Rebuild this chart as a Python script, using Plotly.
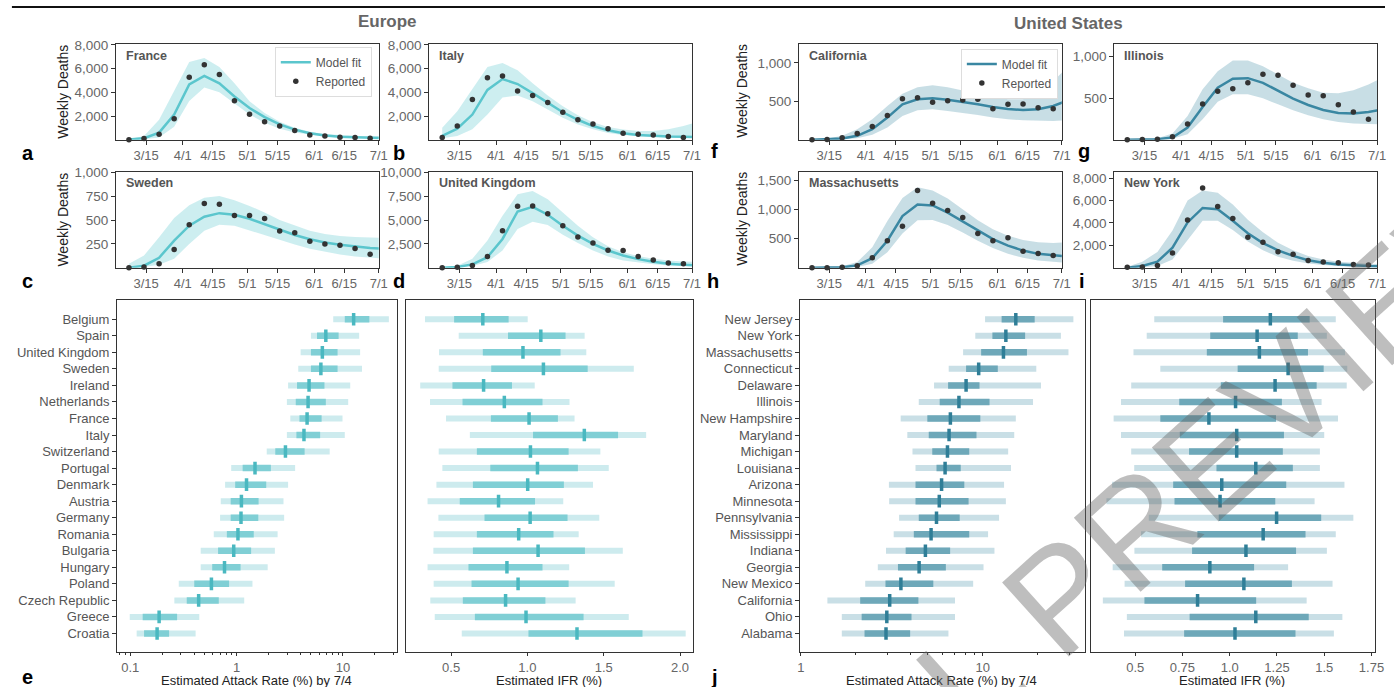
import plotly.graph_objects as go

W, H = 1394, 687

# ---------------- time-series data (weekly) ----------------
week_dates = ['2020-03-07', '2020-03-14', '2020-03-21', '2020-03-28', '2020-04-04', '2020-04-11',
              '2020-04-18', '2020-04-25', '2020-05-02', '2020-05-09', '2020-05-16', '2020-05-23',
              '2020-05-30', '2020-06-06', '2020-06-13', '2020-06-20', '2020-06-27']
fit_dates = week_dates + ['2020-07-04']

date_tickvals = ['2020-03-15', '2020-04-01', '2020-04-15', '2020-05-01', '2020-05-15',
                 '2020-06-01', '2020-06-15', '2020-07-01']
date_ticktext = ['3/15', '4/1', '4/15', '5/1', '5/15', '6/1', '6/15', '7/1']

france_reported = [10, 110, 470, 1770, 5280, 6330, 5500, 3290, 2160, 1520, 1160, 775, 415, 330, 220, 195, 140]
france_fit = [20, 140, 610, 2130, 4670, 5390, 4760, 3650, 2680, 1910, 1300, 860, 550, 360, 250, 190, 160, 140]
france_hi = [50, 330, 1700, 4120, 6550, 6890, 6140, 4760, 3240, 2270, 1520, 1020, 690, 500, 390, 330, 300, 330]
france_lo = [0, 50, 200, 1100, 3260, 4400, 4010, 3100, 2130, 1440, 940, 610, 415, 280, 190, 160, 140, 130]

italy_reported = [190, 1160, 3400, 5230, 5370, 4120, 3730, 3150, 2320, 1690, 1330, 940, 550, 470, 415, 280, 190]
italy_fit = [330, 940, 2130, 4200, 5120, 4700, 3930, 3100, 2320, 1690, 1160, 800, 550, 415, 330, 280, 250, 220]
italy_hi = [1020, 2400, 4290, 6140, 6470, 5860, 4760, 3730, 2820, 2070, 1490, 1080, 860, 750, 750, 890, 1160, 1520]
italy_lo = [140, 330, 890, 2130, 3570, 3730, 3240, 2540, 1850, 1300, 890, 580, 415, 300, 250, 190, 165, 160]

sweden_reported = [0, 7, 42, 191, 451, 674, 667, 549, 549, 517, 385, 368, 278, 250, 236, 201, 142]
sweden_fit = [0, 21, 104, 285, 441, 535, 573, 556, 514, 458, 396, 344, 299, 264, 240, 222, 208, 198]
sweden_hi = [42, 128, 319, 521, 656, 736, 753, 708, 649, 580, 500, 441, 389, 354, 333, 323, 319, 312]
sweden_lo = [0, 7, 31, 94, 250, 389, 451, 441, 396, 347, 292, 243, 198, 167, 139, 118, 104, 94]

uk_reported = [0, 35, 240, 1180, 3890, 6460, 6490, 5660, 4410, 3230, 2600, 1840, 1810, 1180, 800, 490, 420]
uk_fit = [0, 70, 350, 1110, 3020, 5900, 6390, 5560, 4410, 3370, 2500, 1810, 1280, 900, 625, 420, 310, 240]
uk_hi = [35, 210, 940, 2850, 5450, 7710, 8060, 7190, 5800, 4410, 3190, 2260, 1630, 1220, 940, 760, 660, 590]
uk_lo = [0, 35, 170, 590, 1810, 4060, 4830, 4480, 3470, 2600, 1810, 1180, 760, 520, 350, 240, 170, 140]

california_reported = [0, 4, 26, 82, 172, 315, 535, 547, 487, 509, 517, 526, 405, 461, 466, 418, 405]
california_fit = [0, 4, 17, 52, 138, 289, 461, 526, 539, 522, 496, 461, 427, 401, 388, 397, 440, 513]
california_hi = [0, 13, 52, 138, 267, 440, 599, 685, 711, 685, 642, 599, 556, 526, 526, 612, 763, 957]
california_lo = [0, 0, 4, 22, 65, 160, 310, 384, 397, 375, 353, 323, 289, 267, 254, 246, 246, 254]

illinois_reported = [0, 4, 8, 36, 191, 430, 582, 614, 685, 789, 777, 657, 538, 530, 422, 335, 247]
illinois_fit = [0, 0, 8, 28, 147, 394, 625, 733, 741, 685, 594, 494, 418, 359, 323, 315, 335, 367]
illinois_hi = [0, 4, 20, 76, 287, 606, 825, 952, 952, 885, 785, 685, 618, 566, 558, 594, 665, 753]
illinois_lo = [0, 0, 4, 12, 68, 247, 458, 546, 546, 498, 426, 355, 295, 247, 215, 195, 187, 187]

massachusetts_reported = [0, 0, 6, 34, 170, 464, 713, 1325, 1110, 985, 861, 589, 464, 515, 283, 244, 210]
massachusetts_fit = [0, 0, 6, 40, 164, 464, 889, 1087, 1070, 946, 793, 634, 493, 379, 294, 238, 210, 193]
massachusetts_hi = [0, 6, 23, 96, 351, 804, 1200, 1382, 1325, 1189, 1002, 815, 662, 549, 476, 436, 425, 436]
massachusetts_lo = [0, 0, 0, 11, 68, 266, 589, 815, 821, 736, 606, 464, 340, 238, 170, 125, 96, 79]

newyork_reported = [30, 60, 200, 1320, 4250, 7120, 5450, 4390, 2720, 2280, 1430, 1200, 640, 500, 440, 290, 230]
newyork_fit = [0, 150, 530, 1790, 4040, 5330, 5210, 4190, 3070, 2200, 1550, 1050, 670, 440, 290, 200, 150, 120]
newyork_hi = [90, 530, 1410, 3310, 6000, 6880, 6680, 5650, 4270, 3160, 2230, 1550, 1050, 730, 530, 410, 350, 320]
newyork_lo = [0, 30, 150, 730, 2430, 4190, 4190, 3370, 2340, 1550, 970, 610, 380, 230, 150, 90, 60, 60]

# ---------------- Europe: attack rate and IFR (95% / 50% intervals, median) ----------------
eu_countries = ['Belgium', 'Spain', 'United Kingdom', 'Sweden', 'Ireland', 'Netherlands', 'France',
                'Italy', 'Switzerland', 'Portugal', 'Denmark', 'Austria', 'Germany', 'Romania',
                'Bulgaria', 'Hungary', 'Poland', 'Czech Republic', 'Greece', 'Croatia']
eu_ar_lo95 = [8.1, 5.0, 4.0, 3.8, 3.05, 2.97, 3.2, 2.97, 1.92, 0.89, 0.78, 0.71, 0.70, 0.61, 0.46, 0.46, 0.286, 0.26, 0.099, 0.115]
eu_ar_lo50 = [10.4, 5.7, 5.0, 5.0, 3.7, 3.6, 3.9, 3.65, 2.31, 1.14, 0.97, 0.88, 0.88, 0.81, 0.67, 0.59, 0.40, 0.34, 0.131, 0.135]
eu_ar_med = [12.6, 6.9, 6.4, 6.2, 4.8, 4.7, 4.6, 4.3, 2.88, 1.49, 1.24, 1.11, 1.10, 1.03, 0.94, 0.77, 0.58, 0.44, 0.187, 0.179]
eu_ar_hi50 = [17.7, 9.1, 8.9, 8.9, 6.7, 6.9, 6.3, 6.1, 4.36, 2.10, 1.90, 1.61, 1.60, 1.45, 1.37, 1.09, 0.85, 0.68, 0.276, 0.232]
eu_ar_hi95 = [27.0, 14.2, 14.5, 15.1, 11.7, 11.2, 9.9, 10.4, 7.5, 3.55, 3.05, 2.76, 2.80, 2.43, 2.29, 1.96, 1.41, 1.18, 0.446, 0.412]

eu_ifr_lo95 = [0.329, 0.550, 0.421, 0.419, 0.298, 0.362, 0.467, 0.623, 0.419, 0.443, 0.404, 0.346, 0.417, 0.386, 0.384, 0.346, 0.386, 0.364, 0.393, 0.570]
eu_ifr_lo50 = [0.520, 0.873, 0.708, 0.763, 0.509, 0.575, 0.761, 1.037, 0.669, 0.757, 0.643, 0.557, 0.719, 0.669, 0.643, 0.614, 0.634, 0.577, 0.656, 1.007]
eu_ifr_med = [0.708, 1.088, 0.971, 1.105, 0.713, 0.849, 1.011, 1.373, 1.020, 1.066, 1.002, 0.811, 1.018, 0.943, 1.070, 0.866, 0.939, 0.857, 0.991, 1.325]
eu_ifr_hi50 = [0.877, 1.250, 1.217, 1.395, 0.899, 1.099, 1.200, 1.594, 1.270, 1.331, 1.239, 1.050, 1.263, 1.171, 1.377, 1.099, 1.270, 1.118, 1.368, 1.754]
eu_ifr_hi95 = [1.002, 1.375, 1.386, 1.697, 1.048, 1.276, 1.309, 1.778, 1.478, 1.533, 1.430, 1.235, 1.471, 1.336, 1.625, 1.274, 1.572, 1.316, 1.664, 2.037]

# ---------------- United States: attack rate and IFR ----------------
us_states = ['New Jersey', 'New York', 'Massachusetts', 'Connecticut', 'Delaware', 'Illinois',
             'New Hampshire', 'Maryland', 'Michigan', 'Louisiana', 'Arizona', 'Minnesota',
             'Pennsylvania', 'Mississippi', 'Indiana', 'Georgia', 'New Mexico', 'California',
             'Ohio', 'Alabama']
us_ar_lo95 = [10.3, 9.1, 7.8, 6.5, 5.4, 4.45, 3.54, 3.85, 4.11, 4.27, 3.05, 3.06, 3.47, 3.24, 2.94, 2.65, 2.26, 1.40, 1.68, 1.68]
us_ar_lo50 = [12.7, 11.3, 9.8, 8.1, 6.45, 5.8, 4.96, 5.05, 5.28, 5.57, 4.27, 4.27, 4.45, 4.18, 3.77, 3.42, 2.92, 2.12, 2.16, 2.24]
us_ar_med = [15.2, 13.4, 13.0, 9.5, 8.1, 7.4, 6.64, 6.53, 6.40, 6.21, 5.94, 5.77, 5.57, 5.20, 4.84, 4.47, 3.55, 3.08, 2.97, 2.94]
us_ar_hi50 = [19.3, 17.1, 17.5, 12.1, 9.6, 10.9, 9.7, 9.24, 8.43, 7.57, 7.92, 8.36, 7.47, 8.43, 6.62, 6.27, 5.35, 4.43, 4.06, 3.99]
us_ar_hi95 = [31.5, 26.9, 29.6, 19.7, 20.9, 18.9, 15.2, 14.9, 13.8, 14.3, 13.1, 13.4, 12.3, 10.7, 11.6, 10.1, 8.86, 7.04, 7.04, 6.48]

us_ifr_lo95 = [0.601, 0.561, 0.491, 0.633, 0.479, 0.425, 0.386, 0.425, 0.479, 0.495, 0.378, 0.348, 0.572, 0.531, 0.496, 0.381, 0.444, 0.329, 0.456, 0.441]
us_ifr_lo50 = [0.965, 0.897, 0.879, 1.042, 0.953, 0.733, 0.633, 0.736, 0.785, 0.930, 0.701, 0.708, 0.942, 0.829, 0.801, 0.643, 0.764, 0.549, 0.788, 0.759]
us_ifr_med = [1.215, 1.145, 1.157, 1.309, 1.240, 1.031, 0.890, 1.037, 1.037, 1.138, 0.958, 0.949, 1.248, 1.177, 1.086, 0.895, 1.075, 0.830, 1.138, 1.028]
us_ifr_hi50 = [1.423, 1.360, 1.414, 1.497, 1.460, 1.276, 1.245, 1.287, 1.281, 1.334, 1.299, 1.241, 1.484, 1.401, 1.351, 1.129, 1.329, 1.140, 1.418, 1.348]
us_ifr_hi95 = [1.561, 1.514, 1.610, 1.622, 1.619, 1.486, 1.573, 1.500, 1.477, 1.477, 1.607, 1.449, 1.654, 1.561, 1.514, 1.309, 1.544, 1.407, 1.596, 1.551]

# ---------------- styling ----------------
FONT = "Liberation Sans, Arial, sans-serif"
TICK_COLOR = '#666666'
SPINE = '#333333'

EU = dict(line='#5bc6cd', band='rgba(91,198,205,0.30)', light='#cdebee', inner='#80cfd5', med='#4ab8c0')
US = dict(line='#3a87a2', band='rgba(58,135,162,0.28)', light='#c9dfe6', inner='#6ea8b9', med='#2f7e97')


def xd(p0, p1):
    return [p0 / W, p1 / W]


def yd(p0, p1):
    return [1 - p1 / H, 1 - p0 / H]


fig = go.Figure()
layout = {}

R1 = (38, 135)
R2 = (167, 264)

top_panels = [
    ('France', france_fit, france_lo, france_hi, france_reported, (114, 379), R1, 8100,
     [2000, 4000, 6000, 8000], EU, 'legend'),
    ('Italy', italy_fit, italy_lo, italy_hi, italy_reported, (430, 695), R1, 8100,
     [2000, 4000, 6000, 8000], EU, None),
    ('Sweden', sweden_fit, sweden_lo, sweden_hi, sweden_reported, (114, 379), R2, 1010,
     [250, 500, 750, 1000], EU, None),
    ('United Kingdom', uk_fit, uk_lo, uk_hi, uk_reported, (430, 695), R2, 10100,
     [2500, 5000, 7500, 10000], EU, None),
    ('California', california_fit, california_lo, california_hi, california_reported, (803, 1068), R1, 1250,
     [500, 1000], US, 'legend2'),
    ('Illinois', illinois_fit, illinois_lo, illinois_hi, illinois_reported, (1121, 1386), R1, 1155,
     [500, 1000], US, None),
    ('Massachusetts', massachusetts_fit, massachusetts_lo, massachusetts_hi, massachusetts_reported, (803, 1068),
     R2, 1653, [500, 1000, 1500], US, None),
    ('New York', newyork_fit, newyork_lo, newyork_hi, newyork_reported, (1121, 1386), R2, 8580,
     [2000, 4000, 6000, 8000], US, None),
]

annotations = []

for i, (name, fit, lo, hi, rep, (x0, x1), (y0, y1), ymax, yt, col, leg) in enumerate(top_panels, start=1):
    xa, ya = f'x{i}', f'y{i}'
    fig.add_trace(go.Scatter(x=fit_dates + fit_dates[::-1], y=hi + lo[::-1], fill='toself',
                             fillcolor=col['band'], line=dict(width=0), mode='lines',
                             hoverinfo='skip', showlegend=False, xaxis=xa, yaxis=ya))
    fig.add_trace(go.Scatter(x=fit_dates, y=fit, mode='lines', line=dict(color=col['line'], width=2.5),
                             name='Model fit', showlegend=leg is not None,
                             legend=leg if leg else 'legend', xaxis=xa, yaxis=ya))
    fig.add_trace(go.Scatter(x=week_dates, y=rep, mode='markers',
                             marker=dict(color='#333333', size=5.5), name='Reported',
                             showlegend=leg is not None, legend=leg if leg else 'legend',
                             xaxis=xa, yaxis=ya, cliponaxis=False))
    layout[f'xaxis{i}'] = dict(domain=xd(x0, x1), anchor=ya, type='date',
                               range=['2020-03-01', '2020-07-01'],
                               tickvals=date_tickvals, ticktext=date_ticktext,
                               ticks='outside', ticklen=4, tickcolor=SPINE,
                               tickfont=dict(family=FONT, size=13, color=TICK_COLOR),
                               showline=True, mirror=True, linecolor=SPINE, linewidth=1,
                               showgrid=False, zeroline=False)
    layout[f'yaxis{i}'] = dict(domain=yd(y0, y1), anchor=xa, range=[0, ymax],
                               tickvals=yt, tickformat=',', ticks='outside', ticklen=4,
                               tickcolor=SPINE,
                               tickfont=dict(family=FONT, size=13.5, color=TICK_COLOR),
                               showline=True, mirror=True, linecolor=SPINE, linewidth=1,
                               showgrid=False, zeroline=False)
    annotations.append(dict(x=(x0 + 8) / W, y=1 - (y0 + 12) / H, xref='paper', yref='paper',
                            text=f'<b>{name}</b>', showarrow=False, xanchor='left', yanchor='middle',
                            font=dict(family=FONT, size=12.5, color='#555555')))


def interval_panel(idx, labels, lo95, lo50, med, hi50, hi95, col, xdom, xaxis_cfg, show_labels):
    xa, ya = f'x{idx}', f'y{idx}'
    ys = list(range(len(labels)))
    xs_l, ys_l, xs_i, ys_i = [], [], [], []
    for k in ys:
        xs_l += [lo95[k], hi95[k], None]
        ys_l += [k, k, None]
        xs_i += [lo50[k], hi50[k], None]
        ys_i += [k, k, None]
    fig.add_trace(go.Scatter(x=xs_l, y=ys_l, mode='lines', line=dict(color=col['light'], width=6),
                             showlegend=False, hoverinfo='skip', xaxis=xa, yaxis=ya))
    fig.add_trace(go.Scatter(x=xs_i, y=ys_i, mode='lines', line=dict(color=col['inner'], width=6.5),
                             showlegend=False, hoverinfo='skip', xaxis=xa, yaxis=ya))
    fig.add_trace(go.Scatter(x=med, y=ys, mode='markers',
                             marker=dict(symbol='line-ns', size=9, line=dict(color=col['med'], width=3.5)),
                             showlegend=False, xaxis=xa, yaxis=ya))
    cfg = dict(domain=xd(*xdom), anchor=ya, showline=True, mirror=True, linecolor=SPINE, linewidth=1,
               showgrid=False, zeroline=False, ticks='outside', ticklen=3, tickcolor=SPINE,
               tickfont=dict(family=FONT, size=13, color=TICK_COLOR))
    cfg.update(xaxis_cfg)
    layout[f'xaxis{idx}'] = cfg
    ycfg = dict(domain=yd(297, 652), anchor=xa, range=[len(labels) - 1 + 1.14, -1.14],
                showline=True, mirror=True, linecolor=SPINE, linewidth=1, showgrid=False,
                zeroline=False, tickvals=ys)
    if show_labels:
        ycfg.update(ticktext=labels, ticks='outside', ticklen=4, tickcolor=SPINE,
                    tickfont=dict(family=FONT, size=13, color='#555555'))
    else:
        ycfg.update(showticklabels=False, ticks='')
    layout[f'yaxis{idx}'] = ycfg


eu_minor = [0.08, 0.09, 0.2, 0.3, 0.4, 0.5, 0.6, 0.7, 0.8, 0.9, 2, 3, 4, 5, 6, 7, 8, 9, 20, 30]
us_minor = [2, 3, 4, 5, 6, 7, 8, 9, 20, 30]

interval_panel(9, eu_countries, eu_ar_lo95, eu_ar_lo50, eu_ar_med, eu_ar_hi50, eu_ar_hi95, EU, (115, 397),
               dict(type='log', range=[-1.124, 1.504], tickvals=[0.1, 1, 10], ticktext=['0.1', '1', '10'],
                    minor=dict(tickvals=eu_minor, ticks='outside', ticklen=2, tickcolor=SPINE)), True)
interval_panel(10, eu_countries, eu_ifr_lo95, eu_ifr_lo50, eu_ifr_med, eu_ifr_hi50, eu_ifr_hi95, EU, (407, 696),
               dict(range=[0.208, 2.085], tickvals=[0.5, 1.0, 1.5, 2.0], ticktext=['0.5', '1.0', '1.5', '2.0']),
               False)
interval_panel(11, us_states, us_ar_lo95, us_ar_lo50, us_ar_med, us_ar_hi50, us_ar_hi95, US, (804, 1091),
               dict(type='log', range=[-0.004, 1.56], tickvals=[1, 10], ticktext=['1', '10'],
                    minor=dict(tickvals=us_minor, ticks='outside', ticklen=2, tickcolor=SPINE)), True)
interval_panel(12, us_states, us_ifr_lo95, us_ifr_lo50, us_ifr_med, us_ifr_hi50, us_ifr_hi95, US, (1097, 1384),
               dict(range=[0.264, 1.769], tickvals=[0.5, 0.75, 1.0, 1.25, 1.5, 1.75],
                    ticktext=['0.5', '0.75', '1.0', '1.25', '1.5', '1.75']), False)


def ann(px, py, text, size, color='#222222', angle=0, xanchor='center'):
    annotations.append(dict(x=px / W, y=1 - py / H, xref='paper', yref='paper', text=text,
                            showarrow=False, xanchor=xanchor, yanchor='middle', textangle=angle,
                            font=dict(family=FONT, size=size, color=color)))


# region titles
ann(388, 16, '<b>Europe</b>', 17, '#666666')
ann(1075, 18, '<b>United States</b>', 17, '#666666')

# y-axis titles
for px, py in [(61, 86), (61, 215), (746, 86), (746, 215)]:
    ann(px, py, 'Weekly Deaths', 14, '#222222', -90)

# bottom x-axis titles
ann(256, 680, 'Estimated Attack Rate (%) by 7/4', 13, '#222222')
ann(551, 680, 'Estimated IFR (%)', 13, '#222222')
ann(947, 680, 'Estimated Attack Rate (%) by 7/4', 13, '#222222')
ann(1240, 680, 'Estimated IFR (%)', 13, '#222222')

# panel letters
for letter, px, py in [('a', 25, 148), ('b', 399, 148), ('c', 25, 277), ('d', 399, 277), ('e', 25, 677),
                       ('f', 718, 146), ('g', 1090, 146), ('h', 716, 277), ('i', 1088, 277), ('j', 718, 677)]:
    ann(px, py, f'<b>{letter}</b>', 20, '#000000')

# watermark of the reference image
annotations.append(dict(x=1240 / W, y=1 - 440 / H, xref='paper', yref='paper', text='L PREVIEW',
                        showarrow=False, xanchor='center', yanchor='middle', textangle=-42,
                        font=dict(family=FONT, size=145, color='rgba(100,100,100,0.42)')))

legend_common = dict(bgcolor='white', bordercolor='#dddddd', borderwidth=1,
                     font=dict(family=FONT, size=12, color='#555555'),
                     xanchor='right', yanchor='top', tracegroupgap=0, itemwidth=30)

fig.update_layout(
    width=W, height=H, margin=dict(l=0, r=0, t=0, b=0),
    paper_bgcolor='white', plot_bgcolor='white',
    annotations=annotations,
    legend=dict(x=372 / W, y=1 - 41 / H, **legend_common),
    legend2=dict(x=1064 / W, y=1 - 43 / H, **legend_common),
    shapes=[dict(type='line', xref='paper', yref='paper', x0=9 / W, x1=1, y0=1 - 1 / H, y1=1 - 1 / H,
                 line=dict(color='#111111', width=2))],
    **layout
)

fig.write_html('out.html', config={'displayModeBar': False},
               post_script="document.body.style.margin='0px';document.body.style.padding='0px';"
                           "document.body.style.overflow='hidden';")
